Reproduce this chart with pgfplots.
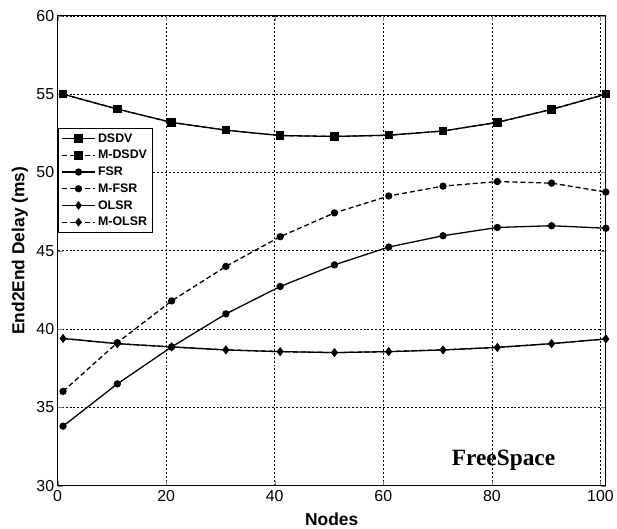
\documentclass[border=0pt]{standalone}
\usepackage{fontspec}
\setmainfont{Liberation Sans}
\newfontfamily\timesfont{Liberation Serif}
\usepackage{pgfplots}
\pgfplotsset{compat=1.18}
\begin{document}
\begin{tikzpicture}
\begin{axis}[
  scale only axis,
  width=552pt, height=473pt,
  xmin=0, xmax=101, ymin=30, ymax=60,
  xtick={0,20,40,60,80,100},
  ytick={30,35,40,45,50,55,60},
  /pgf/number format/assume math mode=true,
  tick label style={font=\fontsize{16}{18}\selectfont},
  xticklabel style={yshift=-1pt},
  tick align=inside,
  major tick length=5pt,
  axis line style={line width=0.9pt},
  grid=major,
  major grid style={black, line width=0.6pt, dash pattern=on 2pt off 2pt},
  xlabel={Nodes},
  ylabel={End2End Delay (ms)},
  every axis x label/.style={at={(axis description cs:0.5,-0.071)}, anchor=center, font=\bfseries\fontsize{17.5}{19}\selectfont},
  every axis y label/.style={at={(axis description cs:-0.069,0.5)}, anchor=center, rotate=90, font=\bfseries\fontsize{17.5}{19}\selectfont},
  legend style={at={(0,0.761)}, anchor=north west, font=\bfseries\fontsize{12.5}{14}\selectfont,
    draw=black, line width=0.8pt, inner xsep=3pt, inner ysep=3pt, row sep=2.6pt, cells={anchor=west}},
  legend image code/.code={\draw[line width=1.3pt, mark repeat=2,mark phase=2] plot coordinates {(0pt,0pt) (17pt,0pt) (34pt,0pt)};},
]
\addplot[black, line width=1.3pt, solid, mark=square*, mark size=3.6pt, mark options={solid, fill=black}] coordinates {
(1,55.0) (11,54.05) (21,53.2) (31,52.7) (41,52.36) (51,52.3) (61,52.38) (71,52.65) (81,53.2) (91,54.03) (101,55.0)};
\addlegendentry{DSDV}
\addplot[black, line width=1.3pt, dash pattern=on 5pt off 3pt, mark=square*, mark size=3.6pt, mark options={solid, fill=black}] coordinates {
(1,55.0) (11,54.05) (21,53.2) (31,52.7) (41,52.36) (51,52.3) (61,52.38) (71,52.65) (81,53.2) (91,54.03) (101,55.0)};
\addlegendentry{M-DSDV}
\addplot[black, line width=1.3pt, solid, mark=*, mark size=3pt, mark options={solid, fill=black}] coordinates {
(1,33.8) (11,36.5) (21,38.86) (31,40.97) (41,42.72) (51,44.1) (61,45.24) (71,45.96) (81,46.49) (91,46.6) (101,46.44)};
\addlegendentry{FSR}
\addplot[black, line width=1.3pt, dash pattern=on 5pt off 3pt, mark=*, mark size=3pt, mark options={solid, fill=black}] coordinates {
(1,36.02) (11,39.13) (21,41.8) (31,44.0) (41,45.9) (51,47.42) (61,48.5) (71,49.13) (81,49.42) (91,49.32) (101,48.75)};
\addlegendentry{M-FSR}
\addplot[black, line width=1.3pt, solid, mark=diamond*, mark size=3.4pt, mark options={solid, fill=black}] coordinates {
(1,39.4) (11,39.07) (21,38.86) (31,38.67) (41,38.56) (51,38.5) (61,38.56) (71,38.67) (81,38.83) (91,39.07) (101,39.37)};
\addlegendentry{OLSR}
\addplot[black, line width=1.3pt, dash pattern=on 5pt off 3pt, mark=diamond*, mark size=3.4pt, mark options={solid, fill=black}] coordinates {
(1,39.4) (11,39.07) (21,38.86) (31,38.67) (41,38.56) (51,38.5) (61,38.56) (71,38.67) (81,38.83) (91,39.07) (101,39.37)};
\addlegendentry{M-OLSR}
\node[anchor=base west, inner sep=0pt, font=\timesfont\bfseries\fontsize{23.5}{25}\selectfont] at (axis cs:72.6,31.27) {FreeSpace};
\end{axis}
\path ([shift={(-58pt,-42pt)}]current axis.south west) rectangle ([shift={(7pt,16pt)}]current axis.north east);
\end{tikzpicture}
\end{document}
